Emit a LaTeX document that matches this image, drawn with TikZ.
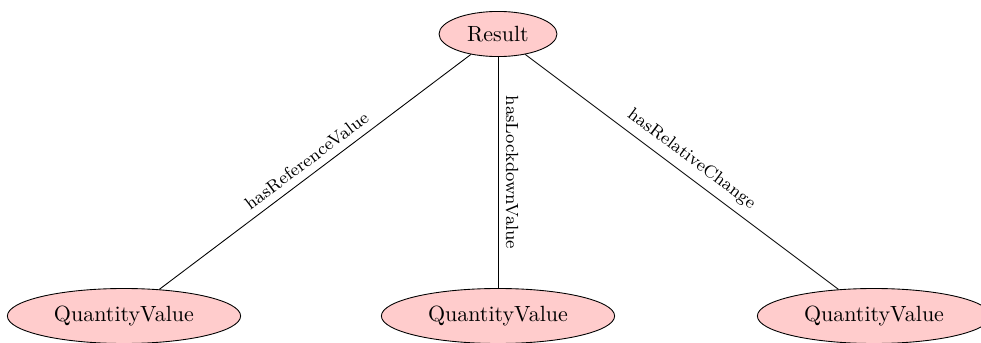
\documentclass[tikz,border=0pt]{standalone}
\usetikzlibrary{shapes.geometric}
\begin{document}
\begin{tikzpicture}[x=0.4545pt,y=-0.4545pt,
  cls/.style={ellipse,draw=black,fill=red!20,inner sep=2pt},
  topcls/.style={cls,minimum width=53.6pt,minimum height=20.5pt},
  qcls/.style={cls,minimum width=106pt,minimum height=25pt},
  lbl/.style={font=\footnotesize,above,sloped}]
\useasboundingbox (0,0) rectangle (981,343);
\node[topcls] (r) at (498,34) {Result};
\node[qcls] (q1) at (124,316) {QuantityValue};
\node[qcls] (q2) at (498,316) {QuantityValue};
\node[qcls] (q3) at (874,316) {QuantityValue};
\draw (r) -- node[lbl] {hasReferenceValue} (q1);
\draw (r.south) -- node[lbl] {hasLockdownValue} (q2.north);
\draw (r) -- node[lbl] {hasRelativeChange} (q3);
\end{tikzpicture}
\end{document}
